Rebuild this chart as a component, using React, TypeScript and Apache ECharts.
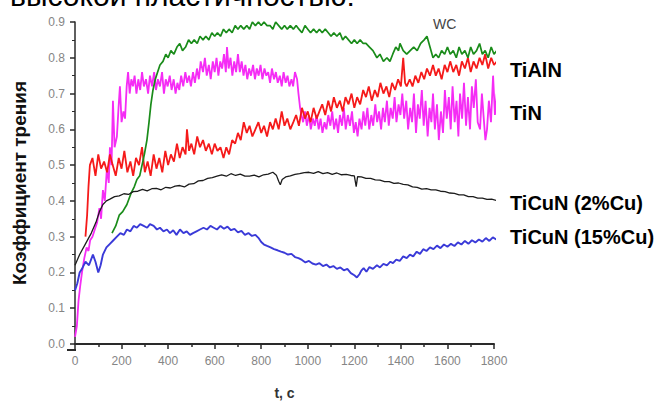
import React, { useEffect, useRef } from "react";
import * as echarts from "echarts";

const xTicks = [0, 200, 400, 600, 800, 1000, 1200, 1400, 1600, 1800];
const yTicks = [0, 0.1, 0.2, 0.3, 0.4, 0.5, 0.6, 0.7, 0.8, 0.9];

const wcData: number[][] = [[159,0.31],[175,0.33],[190,0.36],[205,0.37],[223,0.39],[240,0.42],[255,0.44],[266,0.46],[278,0.47],[288,0.50],[298,0.53],[309,0.57],[318,0.62],[326,0.67],[335,0.71],[345,0.74],[355,0.76],[365,0.78],[378,0.79],[390,0.81],[400,0.80],[412,0.82],[425,0.81],[438,0.83],[450,0.84],[462,0.82],[475,0.83],[488,0.85],[500,0.84],[512,0.85],[525,0.84],[537,0.86],[550,0.85],[562,0.86],[575,0.85],[588,0.87],[600,0.86],[612,0.87],[625,0.86],[638,0.88],[650,0.87],[662,0.88],[675,0.87],[688,0.89],[700,0.88],[712,0.89],[725,0.88],[738,0.89],[750,0.88],[762,0.90],[775,0.89],[788,0.90],[800,0.89],[812,0.90],[825,0.89],[838,0.89],[850,0.88],[862,0.90],[875,0.89],[888,0.88],[900,0.89],[912,0.88],[925,0.89],[938,0.88],[950,0.89],[962,0.88],[975,0.87],[988,0.89],[1000,0.88],[1012,0.87],[1025,0.88],[1038,0.87],[1050,0.88],[1062,0.87],[1075,0.88],[1088,0.87],[1100,0.86],[1112,0.87],[1125,0.86],[1138,0.87],[1150,0.85],[1162,0.86],[1175,0.85],[1188,0.84],[1200,0.85],[1212,0.84],[1225,0.85],[1238,0.84],[1250,0.84],[1265,0.83],[1280,0.82],[1297,0.80],[1310,0.81],[1325,0.79],[1340,0.80],[1353,0.79],[1365,0.81],[1378,0.83],[1390,0.82],[1396,0.84],[1410,0.82],[1425,0.81],[1440,0.82],[1455,0.83],[1470,0.82],[1485,0.84],[1500,0.85],[1512,0.86],[1525,0.83],[1538,0.80],[1550,0.81],[1562,0.80],[1575,0.82],[1588,0.81],[1600,0.83],[1612,0.81],[1625,0.82],[1638,0.80],[1650,0.83],[1662,0.81],[1675,0.82],[1688,0.80],[1700,0.83],[1712,0.81],[1725,0.82],[1738,0.84],[1750,0.81],[1762,0.82],[1775,0.80],[1788,0.83],[1800,0.81],[1812,0.82],[1826,0.83]];

const tinData: number[][] = [[0,0.02],[8,0.05],[15,0.12],[22,0.16],[30,0.20],[40,0.24],[50,0.27],[58,0.26],[65,0.29],[75,0.30],[85,0.32],[95,0.34],[105,0.38],[112,0.35],[120,0.43],[128,0.40],[137,0.49],[145,0.45],[150,0.55],[157,0.50],[163,0.68],[170,0.55],[180,0.58],[187,0.66],[193,0.72],[200,0.62],[208,0.65],[215,0.63],[222,0.72],[228,0.76],[235,0.70],[242,0.74],[249,0.72],[256,0.75],[264,0.70],[272,0.74],[280,0.71],[288,0.76],[296,0.72],[305,0.74],[314,0.70],[322,0.75],[331,0.72],[340,0.76],[348,0.71],[356,0.74],[365,0.72],[374,0.76],[382,0.70],[390,0.74],[398,0.72],[407,0.75],[415,0.71],[424,0.74],[432,0.70],[440,0.73],[448,0.71],[456,0.75],[465,0.72],[474,0.76],[482,0.73],[490,0.75],[498,0.72],[507,0.76],[515,0.73],[524,0.77],[532,0.74],[540,0.79],[550,0.76],[558,0.80],[566,0.75],[575,0.78],[583,0.74],[592,0.79],[600,0.76],[608,0.80],[616,0.75],[624,0.79],[632,0.77],[640,0.81],[648,0.76],[653,0.83],[660,0.77],[668,0.80],[676,0.75],[684,0.79],[692,0.76],[700,0.81],[708,0.76],[716,0.79],[724,0.75],[732,0.78],[740,0.74],[748,0.77],[756,0.75],[765,0.78],[773,0.74],[781,0.77],[789,0.75],[797,0.78],[805,0.74],[814,0.77],[822,0.75],[830,0.76],[838,0.73],[846,0.77],[855,0.74],[863,0.76],[871,0.73],[880,0.75],[888,0.72],[896,0.76],[905,0.73],[913,0.75],[921,0.72],[930,0.74],[937,0.72],[945,0.76],[954,0.74],[960,0.70],[967,0.66],[973,0.64],[980,0.62],[988,0.65],[996,0.61],[1005,0.64],[1013,0.60],[1022,0.63],[1030,0.61],[1038,0.64],[1047,0.60],[1055,0.63],[1063,0.59],[1072,0.62],[1080,0.60],[1088,0.64],[1097,0.61],[1105,0.65],[1113,0.60],[1122,0.63],[1130,0.59],[1138,0.64],[1147,0.61],[1155,0.66],[1163,0.60],[1172,0.64],[1181,0.61],[1190,0.65],[1198,0.59],[1206,0.62],[1214,0.58],[1222,0.63],[1231,0.60],[1239,0.65],[1247,0.61],[1256,0.66],[1264,0.60],[1273,0.64],[1281,0.61],[1290,0.67],[1298,0.62],[1306,0.65],[1315,0.60],[1323,0.66],[1331,0.62],[1340,0.68],[1348,0.61],[1356,0.66],[1365,0.63],[1373,0.69],[1381,0.62],[1390,0.67],[1398,0.64],[1406,0.70],[1414,0.63],[1423,0.68],[1431,0.60],[1440,0.66],[1448,0.62],[1456,0.70],[1465,0.59],[1473,0.67],[1481,0.63],[1490,0.71],[1498,0.61],[1506,0.68],[1515,0.58],[1523,0.66],[1531,0.62],[1538,0.70],[1546,0.60],[1555,0.67],[1563,0.57],[1572,0.65],[1581,0.59],[1589,0.71],[1597,0.63],[1606,0.69],[1614,0.60],[1622,0.72],[1631,0.62],[1639,0.68],[1647,0.58],[1654,0.70],[1663,0.63],[1671,0.73],[1680,0.61],[1688,0.69],[1697,0.60],[1705,0.72],[1713,0.66],[1722,0.74],[1730,0.62],[1740,0.60],[1748,0.70],[1756,0.63],[1763,0.57],[1770,0.60],[1778,0.68],[1787,0.62],[1796,0.75],[1804,0.64],[1812,0.70],[1820,0.60],[1826,0.66]];

const tialnData: number[][] = [[45,0.30],[52,0.36],[58,0.44],[64,0.50],[75,0.52],[88,0.47],[100,0.53],[112,0.49],[125,0.51],[138,0.48],[150,0.53],[162,0.50],[175,0.47],[188,0.52],[200,0.49],[212,0.54],[225,0.48],[238,0.51],[250,0.47],[262,0.52],[275,0.50],[288,0.55],[300,0.48],[312,0.51],[325,0.47],[338,0.53],[350,0.49],[362,0.52],[375,0.48],[388,0.54],[400,0.50],[412,0.53],[425,0.51],[438,0.56],[450,0.52],[462,0.55],[475,0.53],[481,0.60],[490,0.54],[500,0.56],[512,0.53],[525,0.58],[537,0.55],[550,0.57],[562,0.54],[575,0.56],[588,0.53],[600,0.56],[612,0.54],[625,0.55],[638,0.52],[650,0.55],[662,0.53],[675,0.57],[688,0.56],[700,0.59],[712,0.57],[725,0.62],[738,0.59],[750,0.61],[762,0.58],[775,0.60],[788,0.62],[800,0.59],[812,0.61],[825,0.58],[838,0.62],[850,0.60],[862,0.63],[875,0.60],[888,0.65],[900,0.61],[912,0.63],[925,0.60],[938,0.62],[950,0.64],[962,0.61],[975,0.66],[988,0.63],[1000,0.65],[1012,0.62],[1025,0.66],[1038,0.63],[1050,0.65],[1062,0.67],[1075,0.64],[1088,0.68],[1100,0.65],[1112,0.69],[1125,0.66],[1138,0.68],[1150,0.65],[1162,0.69],[1175,0.67],[1188,0.70],[1200,0.66],[1212,0.69],[1225,0.67],[1238,0.71],[1250,0.69],[1262,0.72],[1275,0.68],[1288,0.71],[1300,0.69],[1312,0.73],[1325,0.70],[1338,0.72],[1350,0.69],[1362,0.73],[1375,0.71],[1388,0.74],[1400,0.72],[1410,0.80],[1418,0.73],[1425,0.72],[1438,0.74],[1450,0.72],[1462,0.75],[1475,0.73],[1488,0.76],[1500,0.74],[1512,0.77],[1525,0.75],[1538,0.78],[1550,0.75],[1562,0.77],[1575,0.74],[1588,0.78],[1600,0.76],[1612,0.79],[1625,0.76],[1638,0.78],[1650,0.75],[1662,0.79],[1675,0.77],[1688,0.80],[1700,0.76],[1712,0.79],[1725,0.77],[1738,0.80],[1750,0.78],[1762,0.81],[1775,0.77],[1788,0.80],[1800,0.78],[1812,0.79],[1826,0.77]];

const ticun2Data: number[][] = [[0,0.22],[20,0.25],[45,0.28],[70,0.31],[90,0.34],[105,0.37],[120,0.39],[135,0.40],[150,0.405],[170,0.412],[190,0.414],[210,0.420],[230,0.418],[250,0.426],[270,0.427],[290,0.432],[310,0.428],[330,0.434],[350,0.435],[370,0.431],[390,0.438],[410,0.436],[430,0.441],[450,0.443],[470,0.439],[490,0.447],[510,0.448],[530,0.456],[550,0.457],[570,0.463],[590,0.465],[610,0.469],[630,0.473],[650,0.469],[670,0.476],[690,0.471],[710,0.475],[730,0.469],[750,0.469],[770,0.472],[790,0.467],[810,0.473],[830,0.475],[850,0.480],[865,0.472],[875,0.455],[882,0.445],[890,0.460],[905,0.467],[925,0.470],[945,0.474],[965,0.476],[985,0.479],[1005,0.480],[1025,0.477],[1045,0.482],[1065,0.476],[1085,0.479],[1105,0.474],[1125,0.478],[1145,0.473],[1165,0.474],[1185,0.471],[1200,0.470],[1208,0.440],[1214,0.468],[1230,0.467],[1250,0.463],[1270,0.463],[1290,0.459],[1310,0.458],[1330,0.454],[1350,0.454],[1370,0.449],[1390,0.450],[1410,0.446],[1430,0.445],[1450,0.439],[1470,0.438],[1490,0.433],[1510,0.434],[1530,0.431],[1550,0.431],[1570,0.427],[1590,0.426],[1610,0.422],[1630,0.421],[1650,0.417],[1670,0.417],[1690,0.412],[1710,0.412],[1730,0.408],[1750,0.408],[1770,0.404],[1790,0.405],[1810,0.401],[1839,0.398]];

const ticun15Data: number[][] = [[0,0.15],[10,0.17],[20,0.20],[30,0.21],[45,0.23],[60,0.22],[77,0.25],[88,0.23],[100,0.20],[110,0.22],[120,0.25],[135,0.27],[150,0.28],[165,0.29],[180,0.30],[195,0.31],[210,0.305],[223,0.32],[238,0.315],[252,0.33],[266,0.325],[280,0.335],[295,0.33],[310,0.325],[322,0.335],[338,0.33],[352,0.32],[365,0.325],[380,0.315],[395,0.32],[408,0.31],[422,0.318],[436,0.305],[451,0.32],[466,0.31],[480,0.315],[494,0.305],[507,0.31],[522,0.315],[537,0.32],[552,0.325],[567,0.32],[582,0.33],[596,0.325],[610,0.32],[625,0.33],[640,0.322],[655,0.328],[670,0.318],[685,0.322],[700,0.312],[715,0.316],[730,0.305],[745,0.31],[760,0.302],[775,0.305],[790,0.295],[800,0.285],[812,0.278],[825,0.274],[840,0.27],[855,0.265],[870,0.262],[885,0.258],[900,0.255],[915,0.25],[930,0.252],[945,0.243],[960,0.24],[975,0.235],[990,0.228],[1005,0.232],[1020,0.225],[1035,0.222],[1050,0.226],[1065,0.218],[1080,0.222],[1095,0.214],[1110,0.218],[1125,0.21],[1140,0.214],[1155,0.206],[1170,0.21],[1185,0.198],[1200,0.192],[1211,0.186],[1222,0.195],[1230,0.205],[1240,0.212],[1252,0.202],[1265,0.215],[1280,0.21],[1297,0.22],[1310,0.214],[1325,0.224],[1340,0.22],[1355,0.23],[1366,0.226],[1380,0.236],[1395,0.232],[1410,0.245],[1425,0.24],[1439,0.25],[1453,0.245],[1468,0.258],[1482,0.252],[1496,0.265],[1510,0.26],[1525,0.27],[1540,0.265],[1555,0.275],[1570,0.268],[1585,0.278],[1600,0.272],[1615,0.28],[1630,0.274],[1645,0.284],[1660,0.278],[1675,0.288],[1690,0.28],[1705,0.29],[1720,0.284],[1735,0.292],[1750,0.286],[1765,0.296],[1780,0.288],[1795,0.298],[1810,0.292],[1826,0.30]];

const seriesNames = ["TiN", "TiAlN", "WC", "TiCuN (2%Cu)", "TiCuN (15%Cu)"];
const seriesColors = ["#f52cf5", "#f51a1a", "#1a8c1a", "#1c1c1c", "#3a3ad8"];
const seriesWidths = [1.8, 1.8, 1.7, 1.3, 1.9];

export default function App() {
  const ref = useRef<HTMLDivElement>(null);
  useEffect(() => {
    if (!ref.current) return;
    const chart = echarts.init(ref.current, undefined, { renderer: "svg" });
    const datasets = [tinData, tialnData, wcData, ticun2Data, ticun15Data];
    const font = '"Liberation Sans", Arial, sans-serif';
    chart.setOption({
      animation: false,
      backgroundColor: "#ffffff",
      grid: { left: 75, right: 169, top: 22, bottom: 55 },
      xAxis: {
        type: "value",
        min: xTicks[0],
        max: xTicks[xTicks.length - 1],
        interval: 200,
        name: "t, c",
        nameLocation: "middle",
        nameGap: 42,
        nameTextStyle: { fontFamily: font, fontSize: 14, fontWeight: "bold", color: "#333" },
        axisLine: { show: true, lineStyle: { color: "#2a2a2a", width: 2 } },
        axisTick: { show: true, inside: false, length: 5, lineStyle: { color: "#2a2a2a", width: 1.5 } },
        minorTick: { show: true, splitNumber: 2, length: 3, lineStyle: { color: "#2a2a2a", width: 1.5 } },
        axisLabel: {
          color: "#858585",
          fontFamily: font,
          fontSize: 12,
          margin: 11,
          formatter: (v: number) => String(v),
        },
        splitLine: { show: false },
      },
      yAxis: {
        type: "value",
        min: yTicks[0],
        max: yTicks[yTicks.length - 1],
        interval: 0.1,
        name: "Коэффициент трения",
        nameLocation: "middle",
        nameGap: 46,
        nameRotate: 90,
        nameTextStyle: { fontFamily: font, fontSize: 19, fontWeight: "bold", color: "#111" },
        axisLine: { show: true, lineStyle: { color: "#2a2a2a", width: 1.5 } },
        axisTick: { show: true, inside: false, length: 5, lineStyle: { color: "#2a2a2a", width: 1.5 } },
        minorTick: { show: true, splitNumber: 2, length: 3, lineStyle: { color: "#2a2a2a", width: 1 } },
        axisLabel: {
          color: "#858585",
          fontFamily: font,
          fontSize: 12,
          margin: 10,
          formatter: (v: number) => v.toFixed(1),
        },
        splitLine: { show: false },
      },
      series: datasets.map((d, i) => ({
        name: seriesNames[i],
        type: "line",
        data: d,
        showSymbol: false,
        symbol: "none",
        clip: false,
        lineStyle: { color: seriesColors[i], width: seriesWidths[i] },
        z: 2 + i,
      })),
      graphic: [
        {
          type: "text",
          left: 10,
          top: -20,
          style: { text: "высокой пластичностью:", font: `30px ${font}`, fill: "#000" },
        },
        {
          type: "line",
          shape: { x1: 67, y1: 350, x2: 76, y2: 350 },
          style: { stroke: "#2a2a2a", lineWidth: 2 },
        },
        { type: "text", left: 433, top: 17, style: { text: "WC", font: `14px ${font}`, fill: "#444" } },
        { type: "text", left: 510, top: 60, style: { text: "TiAlN", font: `bold 20px ${font}`, fill: "#000" } },
        { type: "text", left: 510, top: 103, style: { text: "TiN", font: `bold 20px ${font}`, fill: "#000" } },
        { type: "text", left: 510, top: 193, style: { text: "TiCuN (2%Cu)", font: `bold 20px ${font}`, fill: "#000" } },
        { type: "text", left: 510, top: 227, style: { text: "TiCuN (15%Cu)", font: `bold 20px ${font}`, fill: "#000" } },
      ],
    });
    return () => chart.dispose();
  }, []);
  return (
    <div
      ref={ref}
      style={{ position: "fixed", left: 0, top: 0, width: 663, height: 405, background: "#fff" }}
    />
  );
}
